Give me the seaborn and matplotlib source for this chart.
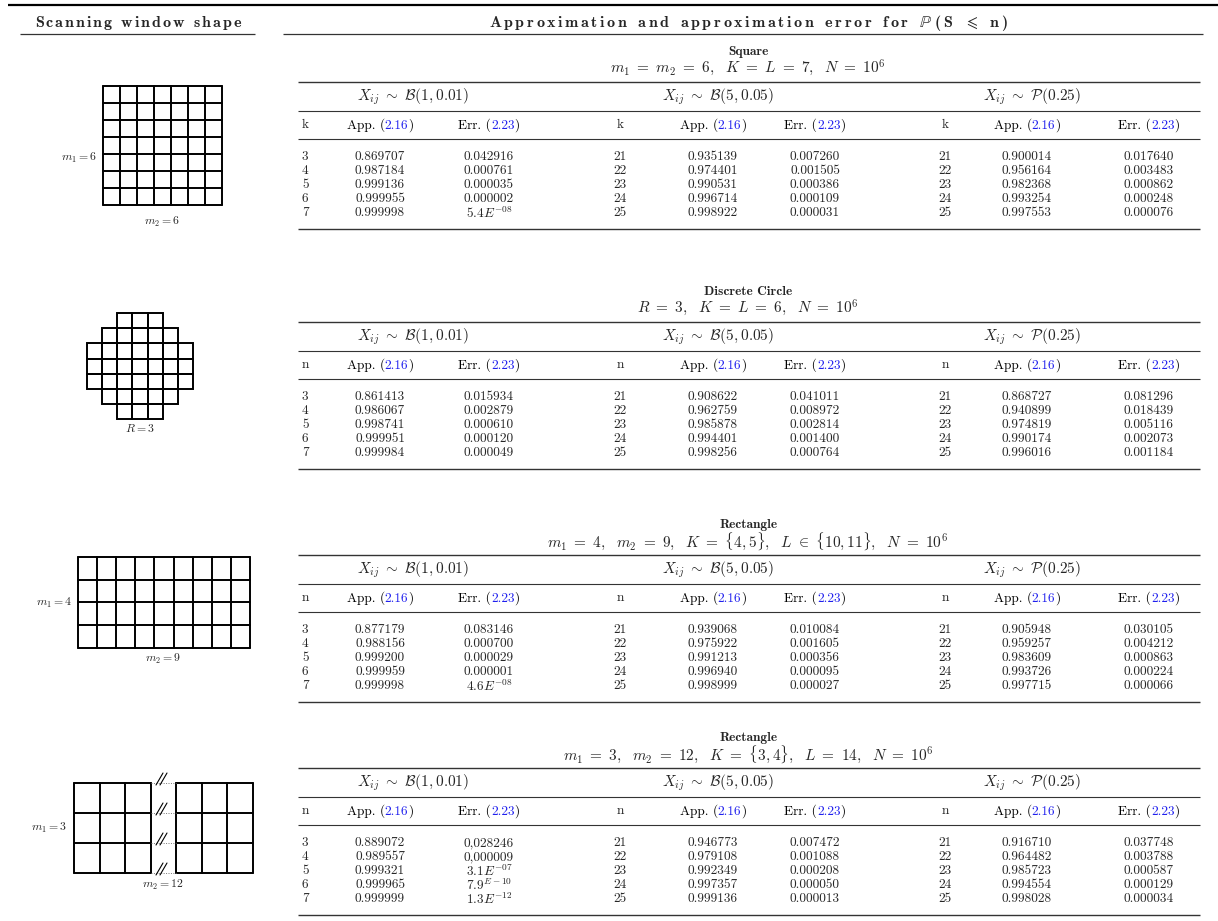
import matplotlib
matplotlib.use("Agg")
import matplotlib.pyplot as plt
from matplotlib.patches import Rectangle
import seaborn as sns

# --- data -------------------------------------------------------------
shape_names = ["Square", "Discrete Circle", "Rectangle", "Rectangle"]
shape_params = [
    r"$m_1\ =\ m_2\ =\ 6,\ \ K\ =\ L\ =\ 7,\ \ N\ =\ 10^6$",
    r"$R\ =\ 3,\ \ K\ =\ L\ =\ 6,\ \ N\ =\ 10^6$",
    r"$m_1\ =\ 4,\ \ m_2\ =\ 9,\ \ K\ =\ \{4, 5\},\ \ L\ \in\ \{10, 11\},\ \ N\ =\ 10^6$",
    r"$m_1\ =\ 3,\ \ m_2\ =\ 12,\ \ K\ =\ \{3, 4\},\ \ L\ =\ 14,\ \ N\ =\ 10^6$",
]
index_names = ["k", "n", "n", "n"]
distributions = [r"$X_{ij}\ \sim\ \mathcal{B}(1, 0.01)$",
                 r"$X_{ij}\ \sim\ \mathcal{B}(5, 0.05)$",
                 r"$X_{ij}\ \sim\ \mathcal{P}(0.25)$"]
n_values = [[3, 4, 5, 6, 7], [21, 22, 23, 24, 25], [21, 22, 23, 24, 25]]

square_app = [[0.869707, 0.987184, 0.999136, 0.999955, 0.999998],
              [0.935139, 0.974401, 0.990531, 0.996714, 0.998922],
              [0.900014, 0.956164, 0.982368, 0.993254, 0.997553]]
square_err = [["0.042916", "0.000761", "0.000035", "0.000002", r"$5.4E^{-08}$"],
              ["0.007260", "0.001505", "0.000386", "0.000109", "0.000031"],
              ["0.017640", "0.003483", "0.000862", "0.000248", "0.000076"]]

circle_app = [[0.861413, 0.986067, 0.998741, 0.999951, 0.999984],
              [0.908622, 0.962759, 0.985878, 0.994401, 0.998256],
              [0.868727, 0.940899, 0.974819, 0.990174, 0.996016]]
circle_err = [["0.015934", "0.002879", "0.000610", "0.000120", "0.000049"],
              ["0.041011", "0.008972", "0.002814", "0.001400", "0.000764"],
              ["0.081296", "0.018439", "0.005116", "0.002073", "0.001184"]]

rect49_app = [[0.877179, 0.988156, 0.999200, 0.999959, 0.999998],
              [0.939068, 0.975922, 0.991213, 0.996940, 0.998999],
              [0.905948, 0.959257, 0.983609, 0.993726, 0.997715]]
rect49_err = [["0.083146", "0.000700", "0.000029", "0.000001", r"$4.6E^{-08}$"],
              ["0.010084", "0.001605", "0.000356", "0.000095", "0.000027"],
              ["0.030105", "0.004212", "0.000863", "0.000224", "0.000066"]]

rect312_app = [[0.889072, 0.989557, 0.999321, 0.999965, 0.999999],
               [0.946773, 0.979108, 0.992349, 0.997357, 0.999136],
               [0.916710, 0.964482, 0.985723, 0.994554, 0.998028]]
rect312_err = [["0,028246", "0,000009", r"$3.1E^{-07}$", r"$7.9^{E-10}$", r"$1.3E^{-12}$"],
               ["0.007472", "0.001088", "0.000208", "0.000050", "0.000013"],
               ["0.037748", "0.003788", "0.000587", "0.000129", "0.000034"]]

all_app = [square_app, circle_app, rect49_app, rect312_app]
all_err = [square_err, circle_err, rect49_err, rect312_err]

circle_rows = [3, 5, 7, 7, 7, 5, 3]

# --- style ------------------------------------------------------------
sns.set_theme(style="white")
plt.rcParams["font.family"] = ["cmr10", "DejaVu Serif"]
plt.rcParams["mathtext.fontset"] = "cm"
plt.rcParams["axes.formatter.use_mathtext"] = True

BLUE = "#1f1fee"
RULE = "#333333"
FS = 9.6

fig = plt.figure(figsize=(12.18, 9.21), dpi=100)
ax = fig.add_axes([0, 0, 1, 1])
ax.set_xlim(0, 1218)
ax.set_ylim(921, 0)
ax.axis("off")
renderer = fig.canvas.get_renderer()


def rich(x, y, parts, size=FS):
    # parts = list of (text, colour), drawn side by side, centred on x
    texts = [ax.text(0, y, s, color=c, fontsize=size, va="baseline", ha="left") for s, c in parts]
    widths = [t.get_window_extent(renderer).width for t in texts]
    left = x - sum(widths) / 2
    for t, w in zip(texts, widths):
        t.set_x(left)
        left += w


def tracked(x, y, tokens, width, size=11.5):
    # slightly letter-spaced bold header, spread over `width` pixels centred on x
    space = size * 100 / 72 * 0.38
    texts, widths = [], []
    for tok in tokens:
        t = ax.text(0, y, tok, fontsize=size, fontfamily="cmb10", math_fontfamily="stix",
                    ha="left", va="baseline")
        texts.append(t)
        widths.append(space if tok == " " else t.get_window_extent(renderer).width)
    gap = (width - sum(widths)) / (len(tokens) - 1)
    left = x - width / 2
    for t, w in zip(texts, widths):
        t.set_x(left)
        left += w + gap


# --- headers ----------------------------------------------------------
ax.hlines(5, 8, 1218, color="black", lw=1.6)
tracked(138, 27, list("Scanning window shape"), 206)
ax.hlines(34, 20, 255, color=RULE, lw=0.9)
tracked(748, 27, list("Approximation and approximation error for ")
        + [r"$\mathbb{P}$", "(", "S", " ", r"$\leqslant$", " ", "n", ")"], 518)
ax.hlines(34, 283, 1203, color=RULE, lw=0.9)

# --- tables -----------------------------------------------------------
table_tops = [82, 322, 555, 768]
x_left, x_right = 298, 1200
k_x = [302, 620, 945]
app_x = [380, 713, 1027]
err_x = [489, 815, 1149]
dist_x = [413, 718, 1032]

for s in range(4):
    T = table_tops[s]
    ax.text(748, T - 30, shape_names[s], fontfamily="cmb10", fontsize=FS, ha="center", va="center")
    ax.text(748, T - 14, shape_params[s], fontsize=11, ha="center", va="center")
    ax.hlines(T, x_left, x_right, color=RULE, lw=1.0)
    ax.hlines(T + 29, x_left, x_right, color=RULE, lw=0.8)
    ax.hlines(T + 57, x_left, x_right, color=RULE, lw=0.8)
    ax.hlines(T + 147, x_left, x_right, color=RULE, lw=1.0)
    for d in range(3):
        ax.text(dist_x[d], T + 15, distributions[d], fontsize=11, ha="center", va="center")
        ha_k = "left" if d == 0 else "center"
        ax.text(k_x[d], T + 43, index_names[s], fontsize=FS, ha=ha_k, va="center")
        rich(app_x[d], T + 47, [("App. (", "black"), ("2.16", BLUE), (")", "black")])
        rich(err_x[d], T + 47, [("Err. (", "black"), ("2.23", BLUE), (")", "black")])
        for i in range(5):
            y = T + 75 + 14 * i
            ax.text(k_x[d], y, str(n_values[d][i]), fontsize=FS, ha=ha_k, va="center")
            ax.text(app_x[d], y, f"{all_app[s][d][i]:.6f}", fontsize=FS, ha="center", va="center")
            ax.text(err_x[d], y, all_err[s][d][i], fontsize=FS, ha="center", va="center")

# --- window shapes ----------------------------------------------------
GL = dict(color="black", lw=1.4)
LS = 8.5


def grid(x0, y0, ncols, nrows, cw, ch):
    for i in range(nrows + 1):
        ax.plot([x0, x0 + ncols * cw], [y0 + i * ch] * 2, **GL)
    for j in range(ncols + 1):
        ax.plot([x0 + j * cw] * 2, [y0, y0 + nrows * ch], **GL)


# square 7x7
grid(103, 86, 7, 7, 17, 17)
ax.text(97, 158, r"$m_1 = 6$", fontsize=LS, ha="right", va="center")
ax.text(162, 222, r"$m_2 = 6$", fontsize=LS, ha="center", va="center")

# discrete circle
cell = 15.2
cx = 140
for r, w in enumerate(circle_rows):
    for c in range(w):
        ax.add_patch(Rectangle((cx - w * cell / 2 + c * cell, 313 + r * cell), cell, cell,
                               fill=False, ec="black", lw=1.4))
ax.text(cx, 428, r"$R = 3$", fontsize=LS, ha="center", va="center")

# rectangle 4x9
grid(78, 557, 9, 4, 19.1, 22.7)
ax.text(72, 603, r"$m_1 = 4$", fontsize=LS, ha="right", va="center")
ax.text(163, 659, r"$m_2 = 9$", fontsize=LS, ha="center", va="center")

# rectangle 3x12 with a break
grid(74, 783, 3, 3, 25.5, 30)
grid(176, 783, 3, 3, 25.5, 30)
for i in range(4):
    y = 783 + 30 * i
    ax.plot([150.5, 176], [y, y], color="#777777", lw=0.7, ls=(0, (1, 1.5)))
    for dx in (0, 4):
        ax.plot([156 + dx, 163 + dx], [y + 2, y - 10], color="black", lw=0.8)
ax.text(67, 828, r"$m_1 = 3$", fontsize=LS, ha="right", va="center")
ax.text(163, 885, r"$m_2 = 12$", fontsize=LS, ha="center", va="center")

fig.savefig("out.png", dpi=100)
